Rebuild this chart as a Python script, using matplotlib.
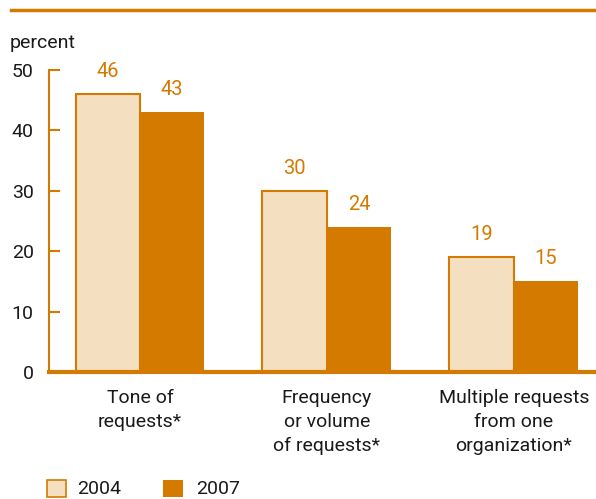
import matplotlib
matplotlib.use("Agg")
import matplotlib.pyplot as plt
from matplotlib.patches import Rectangle
from matplotlib.lines import Line2D

categories = ["Tone of\nrequests*", "Frequency\nor volume\nof requests*", "Multiple requests\nfrom one\norganization*"]
series_names = ["2004", "2007"]
values_2004 = [46, 30, 19]
values_2007 = [43, 24, 15]
yticks = [0, 10, 20, 30, 40, 50]

ORANGE = "#d57a00"
LIGHT = "#f5dfc1"
TXT = "#1a1a1a"
FS = 14
plt.rcParams['font.family'] = ['Roboto', 'DejaVu Sans']

W, H = 596, 499
fig = plt.figure(figsize=(W/100, H/100), dpi=100)
ax = fig.add_axes([49/W, 1-372/H, (W-49)/W, (372-70)/H])

bw = 0.345
x = list(range(len(categories)))
ax.bar([i - bw/2 for i in x], values_2004, width=bw, color=LIGHT, edgecolor=ORANGE, linewidth=1.5, zorder=2)
ax.bar([i + bw/2 for i in x], values_2007, width=bw, color=ORANGE, edgecolor=ORANGE, linewidth=0, zorder=2)
for i, v in enumerate(values_2004):
    ax.text(i - bw/2, v + 2.2, str(v), ha='center', va='bottom', color=ORANGE, fontsize=FS+0.5)
for i, v in enumerate(values_2007):
    ax.text(i + bw/2, v + 2.2, str(v), ha='center', va='bottom', color=ORANGE, fontsize=FS+0.5)

ax.set_xlim(-0.487, 2.44)
ax.set_ylim(0, 50)
ax.set_yticks(yticks)
ax.set_yticklabels([str(t) for t in yticks], fontsize=FS, color=TXT)
ax.tick_params(axis='y', direction='in', length=8, width=1.5, color=ORANGE, pad=11)
ax.set_xticks(x)
ax.set_xticklabels(categories, fontsize=FS, color=TXT, linespacing=1.45, va='top')
ax.tick_params(axis='x', length=0, pad=12)
for s in ['top', 'right']:
    ax.spines[s].set_visible(False)
ax.spines['left'].set_color(ORANGE)
ax.spines['left'].set_linewidth(1.5)
ax.spines['bottom'].set_color(ORANGE)
ax.spines['bottom'].set_linewidth(3)

fig.text(10/W, 1-43/H, "percent", fontsize=FS, va='center', ha='left', color=TXT)
fig.add_artist(Line2D([11/W, 1], [1-10/H, 1-10/H], color=ORANGE, linewidth=2.5, transform=fig.transFigure))

# legend
fig.add_artist(Rectangle((47/W, 1-497/H), 19/W, 17/H, facecolor=LIGHT, edgecolor=ORANGE, linewidth=1.2, transform=fig.transFigure))
fig.text(77/W, 1-489/H, series_names[0], fontsize=FS, va='center', ha='left', color=TXT)
fig.add_artist(Rectangle((163/W, 1-497/H), 20/W, 17/H, facecolor=ORANGE, edgecolor=ORANGE, linewidth=0, transform=fig.transFigure))
fig.text(196/W, 1-489/H, series_names[1], fontsize=FS, va='center', ha='left', color=TXT)

fig.savefig("out.png", dpi=100)
